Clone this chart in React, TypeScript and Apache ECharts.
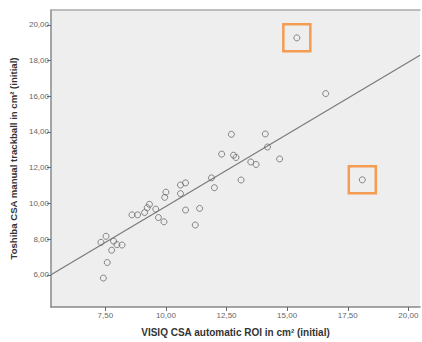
import React, { useEffect, useRef } from "react";
import * as echarts from "echarts";

// Scatter points: VISIQ automatic ROI (x) vs Toshiba manual trackball (y), cm²
const visiqX = [
  7.42, 7.58, 7.32, 7.53, 7.76, 7.84, 7.98, 8.19, 8.6, 8.83, 9.12, 9.23, 9.32,
  9.58, 9.69, 9.92, 9.95, 10.0, 10.6, 10.81, 10.6, 10.81, 11.21, 11.39, 11.88,
  12.0, 12.3, 12.7, 12.79, 12.89, 13.1, 13.5, 13.72, 14.1, 14.19, 14.69, 16.59,
  15.4, 18.1,
];
const toshibaY = [
  5.82, 6.69, 7.82, 8.16, 7.38, 7.89, 7.69, 7.67, 9.36, 9.36, 9.49, 9.76, 9.95,
  9.68, 9.21, 8.97, 10.34, 10.63, 11.03, 11.15, 10.55, 9.63, 8.79, 9.72, 11.43,
  10.88, 12.76, 13.87, 12.7, 12.57, 11.31, 12.32, 12.18, 13.89, 13.16, 12.49,
  16.15, 19.27, 11.32,
];
// Highlighted outliers (orange boxes)
const outlierX = [15.4, 18.1];
const outlierY = [19.27, 11.32];
// Fit line endpoints
const fitX = [5.26, 20.48];
const fitY = [6.0, 18.3];
// Tick values
const xTicks = [7.5, 10, 12.5, 15, 17.5, 20];
const yTicks = [6, 8, 10, 12, 14, 16, 18, 20];

const xTitle = "VISIQ CSA automatic ROI in cm² (initial)";
const yTitle = "Toshiba CSA manual trackball in cm² (initial)";

const fmt = (v: number) => v.toFixed(2).replace(".", ",");

export default function App() {
  const ref = useRef<HTMLDivElement>(null);
  useEffect(() => {
    document.body.style.margin = "0";
    if (!ref.current) return;
    const chart = echarts.init(ref.current, undefined, { renderer: "svg" });
    const font = "'Liberation Sans', Arial, sans-serif";
    chart.setOption({
      animation: false,
      backgroundColor: "#ffffff",
      grid: {
        left: 51,
        right: 2,
        top: 10,
        bottom: 30,
        show: true,
        backgroundColor: "#eeeeee",
        borderWidth: 0,
      },
      xAxis: [
        {
          type: "value",
          min: 5.26,
          max: 20.48,
          name: xTitle,
          nameLocation: "middle",
          nameGap: 20,
          nameTextStyle: {
            fontFamily: font,
            fontWeight: "bold",
            fontSize: 10,
            color: "#333",
          },
          axisLine: { show: true, lineStyle: { color: "#888", width: 1.5 } },
          axisTick: {
            show: true,
            length: 4,
            customValues: xTicks,
            lineStyle: { color: "#666" },
          },
          axisLabel: {
            customValues: xTicks,
            formatter: fmt,
            fontFamily: font,
            fontSize: 8,
            color: "#666",
            margin: 4,
          },
          splitLine: { show: false },
        },
        {
          type: "value",
          position: "top",
          min: 5.26,
          max: 20.48,
          axisLine: { show: true, lineStyle: { color: "#aaa", width: 1.5 } },
          axisTick: { show: false },
          axisLabel: { show: false },
          splitLine: { show: false },
        },
      ],
      yAxis: {
        type: "value",
        min: 4.2,
        max: 20.83,
        name: yTitle,
        nameLocation: "middle",
        nameRotate: 90,
        nameGap: 31,
        nameTextStyle: {
          fontFamily: font,
          fontWeight: "bold",
          fontSize: 9.6,
          color: "#333",
        },
        axisLine: { show: true, lineStyle: { color: "#888", width: 1.5 } },
        axisTick: {
          show: true,
          length: 4,
          customValues: yTicks,
          lineStyle: { color: "#666" },
        },
        axisLabel: {
          customValues: yTicks,
          formatter: fmt,
          fontFamily: font,
          fontSize: 8,
          color: "#666",
          margin: 2,
        },
        splitLine: { show: false },
      },
      series: [
        {
          type: "line",
          data: fitX.map((x, i) => [x, fitY[i]]),
          symbol: "none",
          lineStyle: { color: "#7a7a7a", width: 1.2 },
          z: 2,
        },
        {
          type: "scatter",
          data: visiqX.map((x, i) => [x, toshibaY[i]]),
          symbol: "circle",
          symbolSize: 6,
          itemStyle: {
            color: "rgba(0,0,0,0)",
            borderColor: "#6a6a6a",
            borderWidth: 1,
          },
          z: 3,
        },
        {
          type: "scatter",
          data: outlierX.map((x, i) => [x, outlierY[i]]),
          symbol: "rect",
          symbolSize: 27,
          itemStyle: {
            color: "rgba(0,0,0,0)",
            borderColor: "#f5872a",
            borderWidth: 2.5,
          },
          z: 4,
        },
      ],
    });
    return () => chart.dispose();
  }, []);
  return <div ref={ref} style={{ width: 422, height: 342 }} />;
}
